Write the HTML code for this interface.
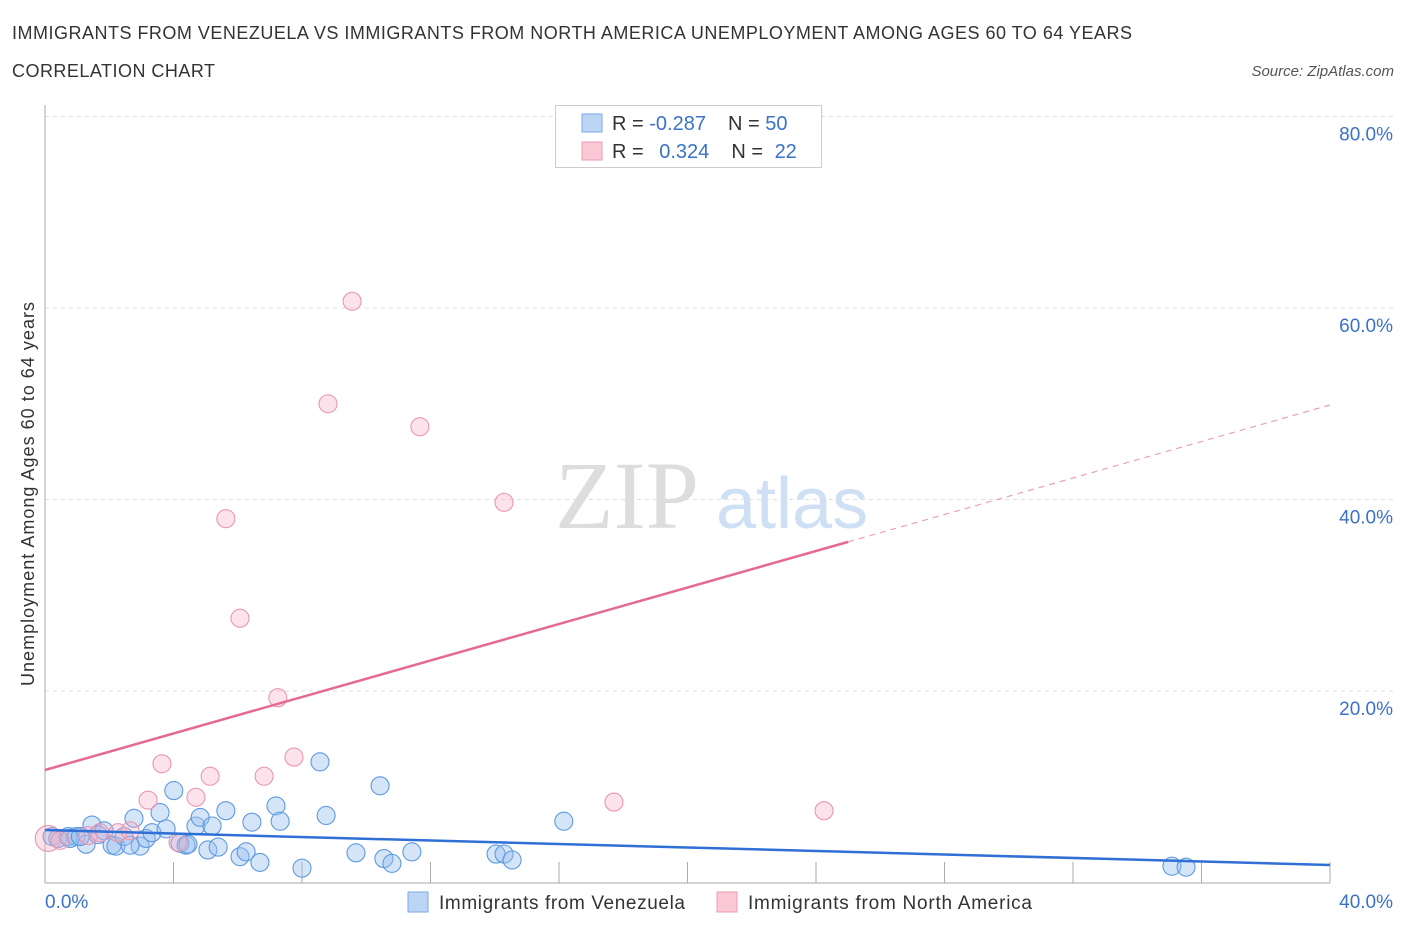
<!DOCTYPE html>
<html><head><meta charset="utf-8"><style>
body{margin:0;background:#fff;font-family:"Liberation Sans",sans-serif;}
</style></head><body>
<svg id="c" width="1406" height="930" xmlns="http://www.w3.org/2000/svg" style="font-family:'Liberation Sans',sans-serif">
<text x="12" y="39" font-size="18" fill="#333" textLength="1120">IMMIGRANTS FROM VENEZUELA VS IMMIGRANTS FROM NORTH AMERICA UNEMPLOYMENT AMONG AGES 60 TO 64 YEARS</text>
<text x="12" y="77" font-size="18" fill="#333" textLength="203">CORRELATION CHART</text>
<text x="1394" y="76" font-size="15" font-style="italic" fill="#555" text-anchor="end">Source: ZipAtlas.com</text>
<text x="0" y="0" transform="translate(34,494) rotate(-90)" font-size="18" fill="#333" text-anchor="middle" textLength="384">Unemployment Among Ages 60 to 64 years</text>
<g id="grid"></g>
<text x="555" y="528" font-size="96" fill="#ddd" font-family="Liberation Serif">ZIP</text>
<text x="716" y="528" font-size="72" fill="#cfe0f5">atlas</text>
<g id="marks"></g>
<g>
<rect x="555.5" y="105.5" width="266" height="62" fill="#fff" stroke="#ccc"/>
<rect x="582" y="114" width="20" height="18" fill="#bcd5f5" stroke="#7aaae6"/>
<rect x="582" y="142" width="20" height="18" fill="#fbc8d6" stroke="#ef9ab5"/>
<text x="612" y="130" font-size="20" fill="#333">R = <tspan fill="#3a72c8">-0.287</tspan><tspan dx="22">N = </tspan><tspan fill="#3a72c8">50</tspan></text>
<text x="612" y="158" font-size="20" fill="#333">R = <tspan fill="#3a72c8" dx="10">0.324</tspan><tspan dx="22">N = </tspan><tspan fill="#3a72c8" dx="6">22</tspan></text>
</g>
<g>
<rect x="408" y="892" width="20" height="20" fill="#bcd5f5" stroke="#7aaae6"/>
<text x="439" y="909" font-size="19" fill="#333" textLength="246">Immigrants from Venezuela</text>
<rect x="717" y="892" width="20" height="20" fill="#fbc8d6" stroke="#ef9ab5"/>
<text x="748" y="909" font-size="19" fill="#333" textLength="284">Immigrants from North America</text>
</g>
</svg>
<script>
const yTicks=[20,40,60,80];
const xTickLabels=["0.0%","40.0%"];
const blueX=[0.22,0.4,0.72,0.97,1.28,1.46,1.65,1.84,2.09,2.21,2.46,2.77,2.96,3.15,3.33,3.58,3.77,4.01,4.2,4.39,4.7,4.83,5.07,5.2,5.39,5.63,6.07,6.26,6.44,6.69,7.19,7.32,8.0,8.56,8.75,9.68,10.43,10.55,10.8,11.42,14.04,14.29,14.54,16.15,35.08,35.52,0.78,2.65,4.45,1.1];
const blueY=[4.8,4.6,4.8,4.8,4.0,6.0,5.0,5.4,3.9,3.8,4.8,6.7,3.8,4.6,5.2,7.3,5.6,9.6,4.1,3.9,5.9,6.8,3.4,5.9,3.7,7.5,2.7,3.2,6.3,2.1,8.0,6.4,1.5,12.6,7.0,3.1,10.1,2.5,2.0,3.2,2.97,2.97,2.35,6.4,1.7,1.6,4.6,3.9,4.0,4.8];
const pinkX=[0.1,0.47,1.34,1.71,2.27,2.65,3.21,3.64,4.14,4.7,5.14,5.63,6.07,6.82,7.25,7.75,8.81,9.56,11.67,14.29,17.71,24.25];
const pinkY=[4.6,4.4,4.9,5.2,5.2,5.4,8.6,12.4,4.2,8.9,11.1,38.0,27.6,11.1,19.3,13.1,50.0,60.7,47.6,39.7,8.4,7.5];
const blueTrend=[5.48,1.83];
const pinkTrend=[11.75,49.87];
const pinkSolidEnd=25.0;
const X=v=>45+v*32.125, Y=v=>882.5-v*9.575;
const NS="http://www.w3.org/2000/svg";
function mk(p,t,a){const e=document.createElementNS(NS,t);for(const k in a)e.setAttribute(k,a[k]);p.appendChild(e);return e;}
const g=document.getElementById('grid'), m=document.getElementById('marks');
yTicks.forEach(t=>{
 const l=mk(g,'line',{x1:45,x2:1395,y1:Y(t),y2:Y(t),stroke:'#ddd','stroke-dasharray':'4,4'});
 
 
 const tx=mk(g,'text',{x:1393,y:Y(t)+24,'font-size':19,fill:'#3a72c8','text-anchor':'end'});tx.textContent=t.toFixed(1)+'%';
 
 
});
const ax=mk(g,'line',{x1:45,x2:45,y1:105,y2:883,stroke:'#aaa'});


const bx=mk(g,'line',{x1:45,x2:1330,y1:883,y2:883,stroke:'#aaa'});


for(let i=1;i<=10;i++){const t=mk(g,'line',{x1:X(i*4),x2:X(i*4),y1:862,y2:883,stroke:'#aaa'});
 
 }
[[0,'start',45],[40,'end',1393]].forEach((d,i)=>{const t=mk(g,'text',{x:d[2],y:908,'font-size':19,fill:'#3a72c8','text-anchor':d[1]});t.textContent=xTickLabels[i];
 
 });
blueX.forEach((x,i)=>{const c=mk(m,'circle',{cx:X(x),cy:Y(blueY[i]),r:9,fill:'rgba(150,190,238,0.4)',stroke:'#5d9ae0','stroke-width':1.1});
 
 });
pinkX.forEach((x,i)=>{const c=mk(m,'circle',{cx:X(x),cy:Y(pinkY[i]),r:i==0?13:9,fill:'rgba(246,175,198,0.35)',stroke:'#ea95b3','stroke-width':1.1});
 
 });
const pv=x=>pinkTrend[0]+(pinkTrend[1]-pinkTrend[0])*x/40;
const bl=mk(m,'line',{x1:X(0),y1:Y(blueTrend[0]),x2:X(40),y2:Y(blueTrend[1]),stroke:'#2f6fd6','stroke-width':2.5});


const pl=mk(m,'line',{x1:X(0),y1:Y(pv(0)),x2:X(pinkSolidEnd),y2:Y(pv(pinkSolidEnd)),stroke:'#e56a93','stroke-width':2.5});


const pd=mk(m,'line',{x1:X(pinkSolidEnd),y1:Y(pv(pinkSolidEnd)),x2:X(40),y2:Y(pv(40)),stroke:'#e9a0b8','stroke-width':1.2,'stroke-dasharray':'6,5'});


</script>
</body></html>
